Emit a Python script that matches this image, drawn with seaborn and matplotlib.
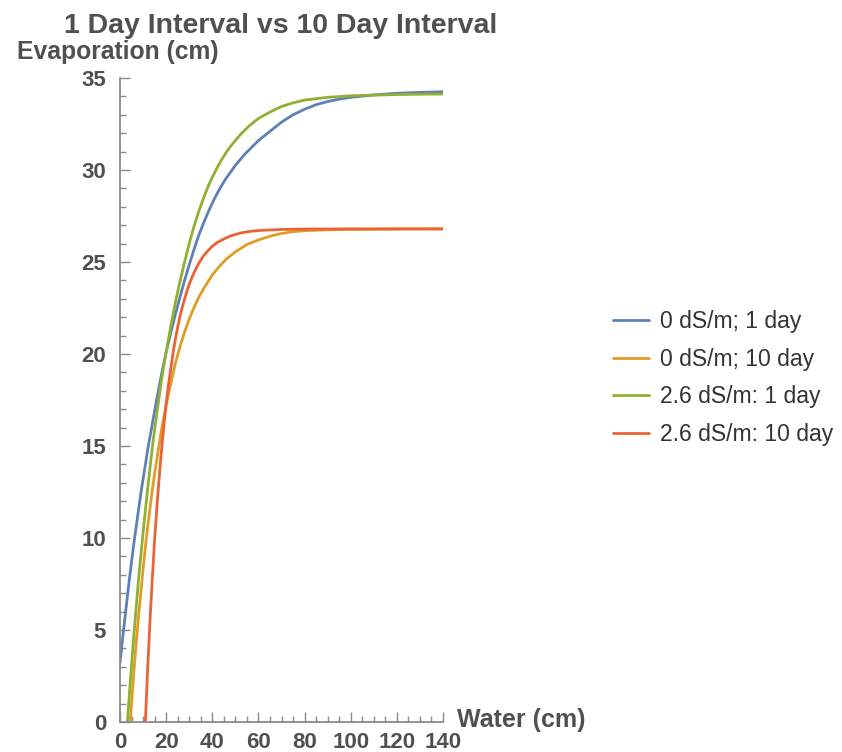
import matplotlib
matplotlib.use("Agg")
import matplotlib.pyplot as plt
from matplotlib.ticker import MultipleLocator
import seaborn as sns
import pandas as pd

# Series labels and colours
labels = ["0 dS/m; 1 day", "0 dS/m; 10 day", "2.6 dS/m: 1 day", "2.6 dS/m: 10 day"]
colors = ["#5E81B5", "#E19C24", "#8FB032", "#EB6235"]

# 0 dS/m, 1 day interval
water_a = [0, 1, 2, 3, 4, 5, 6, 7, 8, 9, 10, 11, 12, 13, 14, 15, 16, 18, 20, 22, 24,
           26, 28, 30, 32, 34, 36, 38, 40, 42, 44, 46, 48, 50, 52, 54, 56, 58, 60,
           65, 70, 75, 80, 85, 90, 95, 100, 110, 120, 130, 140]
evap_a = [3.2, 4.4, 5.5, 6.6, 7.7, 8.7, 9.7, 10.6, 11.5, 12.4, 13.2, 14.0, 14.8,
          15.5, 16.2, 16.9, 17.6, 18.9, 20.1, 21.15, 22.15, 23.1, 24.0, 24.85,
          25.65, 26.4, 27.05, 27.65, 28.2, 28.7, 29.15, 29.55, 29.9, 30.25, 30.55,
          30.85, 31.1, 31.35, 31.6, 32.1, 32.6, 33.0, 33.3, 33.55, 33.72, 33.85,
          33.95, 34.08, 34.17, 34.22, 34.25]

# 0 dS/m, 10 day interval
water_b = [4.4, 5, 6, 7, 8, 9, 10, 11, 12, 13, 14, 15, 16, 18, 20, 22, 24, 26, 28,
           30, 32, 34, 36, 38, 40, 43, 46, 50, 55, 60, 65, 70, 75, 80, 90, 100, 110,
           120, 140]
evap_b = [0.0, 1.0, 2.7, 4.3, 5.7, 7.0, 8.3, 9.5, 10.6, 11.6, 12.6, 13.5, 14.3,
          15.9, 17.2, 18.4, 19.5, 20.4, 21.2, 21.9, 22.5, 23.05, 23.5, 23.9, 24.3,
          24.75, 25.15, 25.55, 25.95, 26.2, 26.4, 26.55, 26.65, 26.7, 26.75, 26.77,
          26.78, 26.79, 26.8]

# 2.6 dS/m, 1 day interval
water_c = [3.2, 4, 5, 6, 7, 8, 9, 10, 11, 12, 13, 14, 15, 16, 18, 20, 22, 24, 26,
           28, 30, 32, 34, 36, 38, 40, 42, 44, 46, 48, 50, 52, 54, 56, 58, 60, 65,
           70, 75, 80, 90, 100, 110, 120, 130, 140]
evap_c = [0.0, 1.4, 3.1, 4.7, 6.2, 7.7, 9.0, 10.3, 11.5, 12.7, 13.8, 14.9, 15.9,
          16.8, 18.6, 20.1, 21.5, 22.8, 23.95, 25.0, 26.0, 26.9, 27.7, 28.4, 29.05,
          29.6, 30.1, 30.55, 30.95, 31.3, 31.6, 31.9, 32.15, 32.4, 32.6, 32.8,
          33.15, 33.45, 33.65, 33.8, 33.95, 34.03, 34.07, 34.1, 34.12, 34.13]

# 2.6 dS/m, 10 day interval
water_d = [11, 12, 13, 14, 15, 16, 17, 18, 19, 20, 21, 22, 23, 24, 25, 26, 27, 28,
           30, 32, 34, 36, 38, 40, 42, 45, 48, 52, 56, 60, 70, 80, 100, 140]
evap_d = [0.0, 2.9, 5.5, 7.8, 9.9, 11.7, 13.3, 14.8, 16.1, 17.3, 18.3, 19.2, 20.05,
          20.8, 21.45, 22.05, 22.55, 23.0, 23.8, 24.4, 24.9, 25.3, 25.6, 25.85,
          26.05, 26.25, 26.42, 26.57, 26.66, 26.71, 26.77, 26.79, 26.8, 26.8]

frames = []
for lab, w, e in zip(labels, [water_a, water_b, water_c, water_d],
                     [evap_a, evap_b, evap_c, evap_d]):
    frames.append(pd.DataFrame({"water": w, "evap": e, "series": lab}))
df = pd.concat(frames, ignore_index=True)

sns.set_style("white")
plt.rcParams["font.family"] = ["Liberation Sans", "DejaVu Sans"]

W, H = 842, 752
fig = plt.figure(figsize=(W / 100, H / 100), dpi=100)
ax = fig.add_axes([120 / W, (H - 722) / H, 323 / W, (722 - 78) / H])

sns.lineplot(data=df, x="water", y="evap", hue="series", hue_order=labels,
             palette=dict(zip(labels, colors)), linewidth=2.0, sort=False,
             estimator=None, ax=ax, legend=True)

ax.set_xlim(0, 140)
ax.set_ylim(0, 35)
ax.set_xlabel("")
ax.set_ylabel("")

axis_grey = "#8a8a8a"
text_grey = "#505050"
for side in ["top", "right"]:
    ax.spines[side].set_visible(False)
for side in ["left", "bottom"]:
    ax.spines[side].set_color(axis_grey)
    ax.spines[side].set_linewidth(1.3)

ax.xaxis.set_major_locator(MultipleLocator(20))
ax.xaxis.set_minor_locator(MultipleLocator(5))
ax.yaxis.set_major_locator(MultipleLocator(5))
ax.yaxis.set_minor_locator(MultipleLocator(1))
ax.tick_params(which="both", direction="in", color=axis_grey, width=1.0,
               bottom=True, left=True, top=False, right=False)
ax.tick_params(which="major", length=7)
ax.tick_params(which="minor", length=4)
ax.tick_params(axis="y", which="major", pad=10)
ax.tick_params(axis="x", which="major", pad=7)
for lbl in ax.get_xticklabels() + ax.get_yticklabels():
    lbl.set_fontsize(16)
    lbl.set_fontweight("bold")
    lbl.set_color(text_grey)

fig.text(281 / W, 1 - 33 / H, "1 Day Interval vs 10 Day Interval", ha="center",
         va="baseline", fontsize=20.5, fontweight="bold", color=text_grey)
fig.text(17 / W, 1 - 59 / H, "Evaporation (cm)", ha="left", va="baseline",
         fontsize=17.8, fontweight="bold", color=text_grey)
fig.text(457 / W, 1 - 720 / H, "Water (cm)", ha="left", va="center",
         fontsize=18, fontweight="bold", color=text_grey)

leg = ax.legend(loc="center left", bbox_to_anchor=(613 / W, 1 - 378 / H),
                bbox_transform=fig.transFigure, frameon=False, fontsize=16.5,
                handlelength=1.55, handletextpad=0.5, labelspacing=0.63,
                borderpad=0, borderaxespad=0)
for t in leg.get_texts():
    t.set_color("#333333")
for l in leg.get_lines():
    l.set_linewidth(2.0)

fig.savefig("out.png", dpi=100, facecolor="white")
